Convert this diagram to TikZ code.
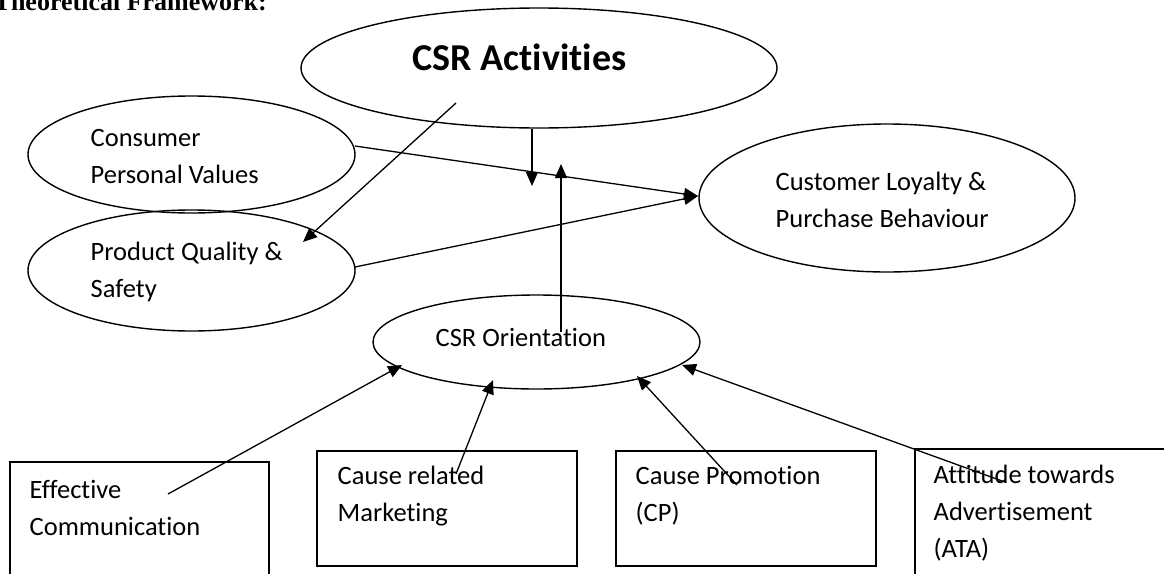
\documentclass[tikz,border=0pt]{standalone}
\usepackage{fontspec}
\setmainfont{Carlito}[Ligatures=NoCommon]
\newfontfamily\titlefont{Liberation Serif}
\usetikzlibrary{arrows.meta,shapes.geometric}
\begin{document}
\begin{tikzpicture}[x=1pt,y=-1pt,
  line width=1.4pt,
  oval/.style={draw, ellipse, inner sep=0pt},
  box/.style={draw, rectangle, inner sep=0pt},
  lbl/.style={anchor=base west, inner sep=0pt, align=left, font=\fontsize{26.5}{37}\selectfont},
  conn/.style={-{Triangle[length=14pt,width=12pt]}, line width=1.3pt}
]
\useasboundingbox (0,0) rectangle (1164,573);

% title (cut at top)
\node[anchor=base west, inner sep=0pt, font=\titlefont\bfseries\fontsize{26}{30}\selectfont] (title) at (-7,10) {Theoretical Framework:};

% ellipses
\node[oval, minimum width=476pt, minimum height=120pt] (act) at (539,68) {};
\node[oval, minimum width=327pt, minimum height=117pt] (cpv) at (191.5,154.5) {};
\node[oval, minimum width=327pt, minimum height=121pt] (pq) at (191.5,270.5) {};
\node[oval, minimum width=376pt, minimum height=148pt] (loy) at (887,198) {};
\node[oval, minimum width=327pt, minimum height=94pt] (ori) at (536.5,342) {};

% boxes
\node[box, minimum width=259pt, minimum height=128pt] (eff) at (139.5,526) {};
\node[box, minimum width=260pt, minimum height=115pt] (crm) at (447,508.5) {};
\node[box, minimum width=260pt, minimum height=115pt] (cp) at (746,508.5) {};
\node[box, minimum width=265pt, minimum height=141pt] (ata) at (1047.5,519.5) {};

% texts (base anchor = last line)
\node[anchor=base west, inner sep=0pt, font=\bfseries\fontsize{38}{40}\selectfont] (tact) at (412,70) {CSR Activities};
\node[lbl] (tcpv) at (90,183) {Consumer\\Personal Values};
\node[lbl] (tpq) at (90,297) {Product Quality \&\\Safety};
\node[lbl] (tloy) at (775,227) {Customer Loyalty \&\\Purchase Behaviour};
\node[lbl] (tori) at (435,346) {CSR Orientation};
\node[lbl] (teff) at (29,535) {Effective\\Communication};
\node[lbl] (tcrm) at (337,521) {Cause related\\Marketing};
\node[lbl] (tcp) at (635,521) {Cause Promotion\\(CP)};
\node[lbl] (tata) at (933,557) {Attitude towards\\Advertisement\\(ATA)};

% connector end points
\coordinate (a1) at (456,103);
\coordinate (p1) at (303,242);
\coordinate (c1) at (355,146);
\coordinate (l1) at (698,196);
\coordinate (q1) at (355,267);
\coordinate (a2) at (532,129);
\coordinate (m1) at (532,186);
\coordinate (o0) at (561,332);
\coordinate (m2) at (561,164);
\coordinate (e1) at (168,494);
\coordinate (o1) at (402,365);
\coordinate (r1) at (456,474);
\coordinate (o2) at (493,380);
\coordinate (s1) at (737,485);
\coordinate (o3) at (637,376);
\coordinate (t1) at (1005,482);
\coordinate (o4) at (682,365);

% connectors
\draw[conn] (a1) -- (p1);
\draw[conn] (c1) -- (l1);
\draw[conn] (q1) -- (l1);
\draw[conn] (a2) -- (m1);
\draw[conn] (o0) -- (m2);
\draw[conn] (e1) -- (o1);
\draw[conn] (r1) -- (o2);
\draw[conn] (s1) -- (o3);
\draw[conn] (t1) -- (o4);
\end{tikzpicture}
\end{document}
